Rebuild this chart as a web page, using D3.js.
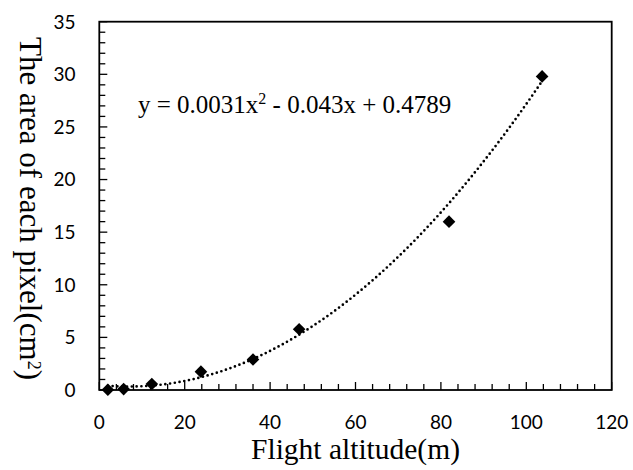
<!DOCTYPE html>
<html>
<head>
<meta charset="utf-8">
<script src="https://cdn.jsdelivr.net/npm/d3@7"></script>
<style>
  html, body { margin: 0; padding: 0; background: #fff; }
  svg { display: block; }
</style>
</head>
<body>
<svg id="chart" width="633" height="470"></svg>
<script>
// ---- data ----
const altitude = [2.0, 5.7, 12.3, 23.8, 36.0, 46.8, 81.9, 103.7];
const pixelArea = [0.02, 0.09, 0.57, 1.74, 2.9, 5.77, 16.0, 29.8];
const trendCoefs = [0.0031, -0.043, 0.4789]; // a, b, c of y = ax^2 + bx + c
const xTicks = [0, 20, 40, 60, 80, 100, 120];
const yTicks = [0, 5, 10, 15, 20, 25, 30, 35];
const xTitle = "Flight altitude(m)";
const yTitleMain = "The area of each pixel(cm";
const yTitleSup = "2";
const yTitleEnd = ")";
const equationText = ["y = 0.0031x", "2", " - 0.043x + 0.4789"];

// ---- layout ----
const svg = d3.select("#chart");
const L = 99.3, R = 611.7, T = 21.7, B = 390;
const x = d3.scaleLinear().domain([0, 120]).range([L, R]);
const y = d3.scaleLinear().domain([0, 35]).range([B, T]);

svg.append("rect").attr("width", 633).attr("height", 470).attr("fill", "#fff");

// minor ticks
const xMinor = d3.range(0, 121, 4);
const yMinor = d3.range(0, 36, 1);
const g = svg.append("g");

g.selectAll(".xmin").data(xMinor).join("line")
  .attr("x1", d => x(d)).attr("x2", d => x(d))
  .attr("y1", B).attr("y2", d => B - (d % 20 === 0 ? 8 : 6))
  .attr("stroke", "#000").attr("stroke-width", 1.3);
g.selectAll(".ymin").data(yMinor).join("line")
  .attr("y1", d => y(d)).attr("y2", d => y(d))
  .attr("x1", L).attr("x2", d => L + (d % 5 === 0 ? 8 : 6))
  .attr("stroke", "#000").attr("stroke-width", 1.3);

// frame
svg.append("rect").attr("x", L).attr("y", T).attr("width", R - L).attr("height", B - T)
  .attr("fill", "none").attr("stroke", "#000").attr("stroke-width", 1.8);

// tick labels
svg.selectAll(".xl").data(xTicks).join("text")
  .attr("x", d => x(d)).attr("y", 428.5)
  .attr("text-anchor", "middle")
  .attr("font-family", "Lato, 'Open Sans', sans-serif").attr("font-size", 19)
  .attr("fill", "#000").text(d => d);
svg.selectAll(".yl").data(yTicks).join("text")
  .attr("x", 75.5).attr("y", d => y(d)).attr("dy", "0.36em")
  .attr("text-anchor", "end")
  .attr("font-family", "Lato, 'Open Sans', sans-serif").attr("font-size", 19)
  .attr("fill", "#000").text(d => d);

// trendline
const [a, b, c] = trendCoefs;
const x0 = d3.min(altitude), x1 = d3.max(altitude);
const trendXs = d3.range(0, 201).map(i => x0 + (x1 - x0) * i / 200);
const line = d3.line().x(d => x(d)).y(d => y(a * d * d + b * d + c));
svg.append("path").datum(trendXs).attr("d", line)
  .attr("fill", "none").attr("stroke", "#000").attr("stroke-width", 2.7)
  .attr("stroke-linecap", "round").attr("stroke-dasharray", "0 4.8");

// markers
const sym = d3.symbol(d3.symbolSquare, 80);
svg.selectAll(".pt").data(altitude).join("path")
  .attr("d", sym)
  .attr("transform", (d, i) => `translate(${x(d)},${y(pixelArea[i])}) rotate(45)`)
  .attr("fill", "#000");

// equation
const eq = svg.append("text").attr("x", 138).attr("y", 113)
  .attr("font-family", "'Liberation Serif', 'Times New Roman', serif").attr("font-size", 25)
  .attr("fill", "#000");
eq.append("tspan").text(equationText[0]);
eq.append("tspan").attr("font-size", 16).attr("dy", -9).text(equationText[1]);
eq.append("tspan").attr("dy", 9).text(equationText[2]);

// x title
svg.append("text").attr("x", (L + R) / 2).attr("y", 459)
  .attr("text-anchor", "middle")
  .attr("font-family", "'Liberation Serif', 'Times New Roman', serif").attr("font-size", 29.5)
  .attr("fill", "#000").text(xTitle);

// y title
const yt = svg.append("text")
  .attr("transform", `translate(20,208.5) rotate(90)`)
  .attr("text-anchor", "middle")
  .attr("font-family", "'Liberation Serif', 'Times New Roman', serif").attr("font-size", 31)
  .attr("fill", "#000");
yt.append("tspan").text(yTitleMain);
yt.append("tspan").attr("font-size", 18).attr("dy", -8).text(yTitleSup);
yt.append("tspan").attr("dy", 8).text(yTitleEnd);
</script>
</body>
</html>
